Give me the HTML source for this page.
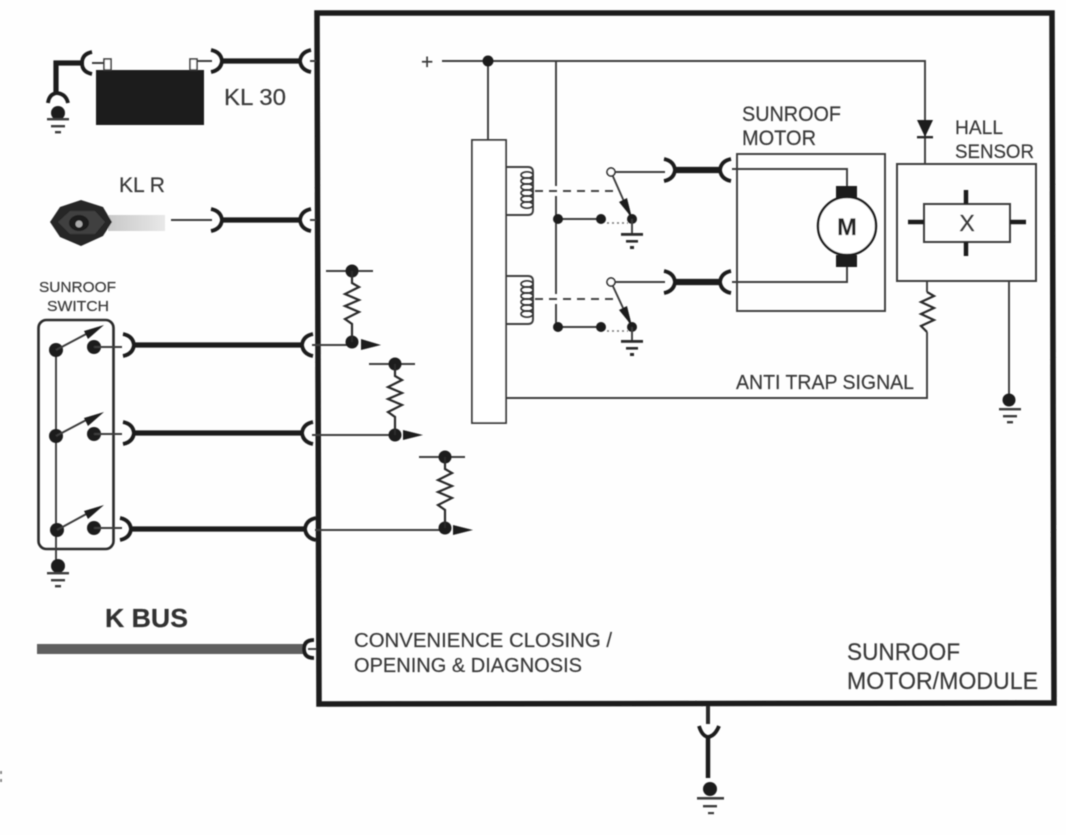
<!DOCTYPE html>
<html>
<head>
<meta charset="utf-8">
<style>
html,body{margin:0;padding:0;background:#fefefe;width:1066px;height:835px;overflow:hidden}
svg{display:block}
text{font-family:"Liberation Sans",sans-serif;fill:#3a3a3a;stroke:#3a3a3a;stroke-width:0.2}
.w{fill:none;stroke:#3c3c3c;stroke-width:1.9}
.t{fill:none;stroke:#1e1e1e;stroke-width:5.2}
.c{fill:none;stroke:#1e1e1e;stroke-width:3.8}
.d{fill:#1e1e1e}
</style>
</head>
<body>
<svg width="1066" height="835" viewBox="0 0 1066 835" xmlns="http://www.w3.org/2000/svg">
<defs>
<filter id="b" x="-5%" y="-5%" width="110%" height="110%"><feGaussianBlur stdDeviation="0.65"/></filter>
<linearGradient id="blade" x1="0" x2="1" y1="0" y2="0"><stop offset="0" stop-color="#c8c8c8"/><stop offset="1" stop-color="#e8e8e8"/></linearGradient>
<path id="plug" d="M-11,-11 Q-1,-9 0,0 Q-1,9 -11,11" fill="none" stroke="#1e1e1e" stroke-width="3.8"/>
<path id="sock" d="M11,-11 Q1,-9 0,0 Q1,9 11,11" fill="none" stroke="#1e1e1e" stroke-width="3.8"/>
<g id="gnd"><rect x="-11" y="0" width="22" height="2.4" fill="#3c3c3c"/><rect x="-7" y="7" width="14" height="2.4" fill="#3c3c3c"/><rect x="-3" y="13" width="6" height="2.4" fill="#3c3c3c"/></g>
</defs>
<g filter="url(#b)">
<!-- module -->
<path d="M317,13 L1052,13 L1054,703 L319,704 Z" fill="none" stroke="#1e1e1e" stroke-width="5.5"/>

<!-- KL30 -->
<rect x="96" y="70" width="108" height="55" fill="#1a1a1a"/>
<rect x="104" y="59" width="7" height="11" fill="#fff" stroke="#3c3c3c" stroke-width="1.6"/>
<rect x="190" y="59" width="7" height="11" fill="#fff" stroke="#3c3c3c" stroke-width="1.6"/>
<path class="w" d="M92,63H104M197,61H212"/>
<path class="t" d="M84,63H56V93"/>
<path class="c" d="M92,52 Q82,54 82,63 Q82,72 92,74"/>
<path class="c" d="M48,103 Q49,94 57,93 Q66,94 68,103"/>
<circle class="d" cx="58" cy="113" r="7"/>
<use href="#gnd" x="58" y="118"/>
<use href="#plug" x="222" y="61"/>
<path class="t" d="M222,61H300"/>
<use href="#sock" x="300" y="61"/>
<path class="w" d="M310,61H316"/>
<text x="224" y="105" font-size="23" textLength="62" lengthAdjust="spacingAndGlyphs">KL 30</text>

<!-- KL R -->
<text x="119" y="192" font-size="21" textLength="46" lengthAdjust="spacingAndGlyphs">KL R</text>
<rect x="108" y="215" width="57" height="16" fill="url(#blade)"/>
<path d="M50,222 L60,207 L81,200 L103,207 L112,222 L103,236 L81,246 L60,237 Z" fill="#262626"/>
<path d="M58,222 L70,211 L95,211 L105,222 L95,234 L70,234 Z" fill="#404040"/>
<ellipse cx="79" cy="223" rx="10" ry="8" fill="#1e1e1e"/>
<ellipse cx="79" cy="224" rx="3.5" ry="3.5" fill="#aaa"/>
<path class="w" d="M171,220H212"/>
<use href="#plug" x="222" y="220"/>
<path class="t" d="M222,220H300"/>
<use href="#sock" x="300" y="220"/>
<path class="w" d="M310,220H316"/>

<!-- Switch -->
<text x="39" y="292" font-size="15" textLength="77" lengthAdjust="spacingAndGlyphs">SUNROOF</text>
<text x="47" y="311" font-size="15" textLength="62" lengthAdjust="spacingAndGlyphs">SWITCH</text>
<rect x="38.5" y="320" width="75" height="229" rx="8" fill="none" stroke="#2a2a2a" stroke-width="2.6"/>
<path class="w" d="M56,350V566"/>
<circle class="d" cx="56" cy="350" r="7"/>
<circle class="d" cx="56" cy="436" r="7"/>
<circle class="d" cx="57" cy="530" r="7"/>
<circle class="d" cx="94" cy="347" r="7"/>
<circle class="d" cx="94" cy="434" r="7"/>
<circle class="d" cx="94" cy="528" r="7"/>
<path class="w" d="M56,350L90,332M56,436L90,418M57,530L90,512"/>
<path class="d" d="M104,325L84,331L88,339ZM104,412L84,418L88,426ZM104,505L84,511L88,519Z"/>
<path class="w" d="M94,347H122M94,434H122M94,528H122"/>
<use href="#plug" x="134" y="345"/><use href="#plug" x="134" y="433"/><use href="#plug" x="131" y="529"/>
<path class="t" d="M134,345H302M134,433H302M131,529H305"/>
<use href="#sock" x="302" y="345"/><use href="#sock" x="302" y="433"/><use href="#sock" x="305" y="529"/>
<circle class="d" cx="58" cy="566" r="7"/>
<use href="#gnd" x="58" y="572"/>

<!-- pull-ups -->
<path class="w" d="M312,345H352M312,435H395M315,530H445"/>
<path class="w" d="M326,271H373M369,364H415M419,457H465"/>
<circle class="d" cx="352" cy="271" r="6.5"/>
<circle class="d" cx="352" cy="342" r="6.5"/>
<circle class="d" cx="395" cy="364" r="6.5"/>
<circle class="d" cx="395" cy="435" r="6.5"/>
<circle class="d" cx="445" cy="457" r="6.5"/>
<circle class="d" cx="445" cy="528" r="6.5"/>
<path d="M352,271V283L359,287L345,294L359,300L345,306L359,312L345,319L352,324V342" fill="none" stroke="#2a2a2a" stroke-width="2.2"/>
<path d="M395,364V376L402,380L388,387L402,393L388,399L402,405L388,412L395,417V435" fill="none" stroke="#2a2a2a" stroke-width="2.2"/>
<path d="M445,457V469L452,473L438,480L452,486L438,492L452,498L438,505L445,510V528" fill="none" stroke="#2a2a2a" stroke-width="2.2"/>
<path class="d" d="M361,339L381,345L361,350ZM403,430L423,435L403,440ZM453,525L473,530L453,535Z"/>

<!-- K BUS -->
<text x="105" y="627" font-size="26" font-weight="bold" textLength="83" lengthAdjust="spacingAndGlyphs" style="fill:#333">K BUS</text>
<rect x="37" y="644" width="268" height="10" fill="#5e5e5e"/>
<path d="M314,640 Q304,640 304,649 Q304,658 314,658" fill="none" stroke="#1e1e1e" stroke-width="3.8"/>
<path class="w" d="M308,649H316"/>

<!-- Bottom ground -->
<path d="M708,706V724" stroke="#2a2a2a" stroke-width="4" fill="none"/>
<path class="c" d="M699,726 Q702,736 708,737 Q715,736 719,726"/>
<path d="M708,737V778" stroke="#1e1e1e" stroke-width="4.5" fill="none"/>
<circle class="d" cx="710" cy="789" r="7"/>
<rect x="697" y="797" width="27" height="2.6" fill="#3c3c3c"/>
<rect x="703" y="805" width="14" height="2.4" fill="#3c3c3c"/>
<rect x="708" y="812" width="6" height="2.2" fill="#3c3c3c"/>

<!-- Supply -->
<text x="421" y="69" font-size="21">+</text>
<path class="w" d="M442,61H925V164M488,61V140M556,61V186M556,196V294M556,304V327"/>
<circle class="d" cx="488" cy="61" r="5.5"/>

<!-- Relay block -->
<rect x="472" y="140" width="34" height="283" fill="#fff" stroke="#3c3c3c" stroke-width="1.9"/>
<path class="w" d="M506,167H528Q533,167 533,172V210Q533,215 528,215H506"/>
<path class="w" d="M506,276H528Q533,276 533,281V319Q533,324 528,324H506"/>
<g fill="none" stroke="#333" stroke-width="1.6">
<ellipse cx="527" cy="175" rx="6" ry="3.2"/><ellipse cx="527" cy="181" rx="6" ry="3.2"/><ellipse cx="527" cy="187" rx="6" ry="3.2"/><ellipse cx="527" cy="193" rx="6" ry="3.2"/><ellipse cx="527" cy="199" rx="6" ry="3.2"/><ellipse cx="527" cy="205" rx="6" ry="3.2"/>
<ellipse cx="527" cy="284" rx="6" ry="3.2"/><ellipse cx="527" cy="290" rx="6" ry="3.2"/><ellipse cx="527" cy="296" rx="6" ry="3.2"/><ellipse cx="527" cy="302" rx="6" ry="3.2"/><ellipse cx="527" cy="308" rx="6" ry="3.2"/><ellipse cx="527" cy="314" rx="6" ry="3.2"/>
</g>
<path d="M535,191H616M535,299H616" stroke="#444" stroke-width="2" stroke-dasharray="8 6" fill="none"/>
<path class="w" d="M558,219H601M558,327H601"/>
<circle class="d" cx="558" cy="219" r="5"/><circle class="d" cx="601" cy="219" r="5"/><circle class="d" cx="632" cy="219" r="5"/>
<circle class="d" cx="558" cy="327" r="5"/><circle class="d" cx="601" cy="327" r="5"/><circle class="d" cx="632" cy="327" r="5"/>
<path d="M607,223H628M607,331H628" stroke="#777" stroke-width="1.6" stroke-dasharray="2 3" fill="none"/>
<path class="w" d="M611,172L630,215M611,282L630,323"/>
<path class="d" d="M632,218L619,202L627,198ZM632,326L619,310L627,306Z"/>
<circle cx="611" cy="172" r="4" fill="#fff" stroke="#2a2a2a" stroke-width="1.7"/>
<circle cx="611" cy="282" r="4" fill="#fff" stroke="#2a2a2a" stroke-width="1.7"/>
<path class="w" d="M632,219V234M632,327V342M615,172H665M615,282H665"/>
<rect x="621" y="233" width="22" height="2.8" fill="#2a2a2a"/><rect x="626" y="240" width="12" height="2.6" fill="#2a2a2a"/><rect x="630" y="246" width="4" height="3" fill="#2a2a2a"/>
<rect x="621" y="340" width="22" height="2.8" fill="#2a2a2a"/><rect x="626" y="347" width="12" height="2.6" fill="#2a2a2a"/><rect x="630" y="353" width="4" height="3" fill="#2a2a2a"/>

<!-- motor connectors -->
<use href="#plug" x="675" y="170"/><use href="#sock" x="720" y="170"/>
<use href="#plug" x="675" y="282"/><use href="#sock" x="720" y="282"/>
<path d="M675,170H722M675,282H722" stroke="#1e1e1e" stroke-width="6.2" fill="none"/>

<!-- Motor -->
<text x="742" y="121" font-size="21" textLength="99" lengthAdjust="spacingAndGlyphs">SUNROOF</text>
<text x="742" y="145" font-size="21" textLength="74" lengthAdjust="spacingAndGlyphs">MOTOR</text>
<rect x="737" y="154" width="148" height="157" fill="none" stroke="#3c3c3c" stroke-width="1.9"/>
<path class="w" d="M732,169H847V186M732,282H847V266"/>
<rect x="836" y="186" width="21" height="13" fill="#1e1e1e"/>
<rect x="836" y="255" width="21" height="12" fill="#1e1e1e"/>
<circle cx="847" cy="226" r="29" fill="#fff" stroke="#1e1e1e" stroke-width="2.4"/>
<text x="847" y="235" font-size="24" font-weight="bold" text-anchor="middle" style="fill:#222">M</text>

<!-- Hall -->
<path class="d" d="M917,120H933L925,137Z"/>
<rect x="917" y="136" width="16" height="2.4" fill="#2a2a2a"/>
<text x="955" y="134" font-size="19" textLength="48" lengthAdjust="spacingAndGlyphs">HALL</text>
<text x="955" y="158" font-size="19" textLength="79" lengthAdjust="spacingAndGlyphs">SENSOR</text>
<rect x="897" y="164" width="139" height="117" fill="none" stroke="#3c3c3c" stroke-width="2"/>
<rect x="924" y="204" width="86" height="38" fill="none" stroke="#3c3c3c" stroke-width="2"/>
<path d="M966,190V204M966,242V256M908,222H924M1010,222H1026" stroke="#1e1e1e" stroke-width="4.5" fill="none"/>
<text x="967" y="231" font-size="23" text-anchor="middle">X</text>
<path class="w" d="M927,281V292M927,332V398H506"/>
<path d="M927,292L934,296L921,302L934,308L921,314L934,320L921,326L927,332" fill="none" stroke="#2a2a2a" stroke-width="2.2"/>
<path class="w" d="M1009,281V395"/>
<circle class="d" cx="1009" cy="400" r="6.5"/>
<use href="#gnd" x="1010" y="408"/>
<text x="736" y="389" font-size="20" textLength="178" lengthAdjust="spacingAndGlyphs">ANTI TRAP SIGNAL</text>

<!-- Labels -->
<text x="354" y="647" font-size="20.5" textLength="258" lengthAdjust="spacingAndGlyphs">CONVENIENCE CLOSING /</text>
<text x="354" y="672" font-size="20.5" textLength="228" lengthAdjust="spacingAndGlyphs">OPENING &amp; DIAGNOSIS</text>
<text x="847" y="660" font-size="24" textLength="113" lengthAdjust="spacingAndGlyphs">SUNROOF</text>
<text x="847" y="689" font-size="24" textLength="191" lengthAdjust="spacingAndGlyphs">MOTOR/MODULE</text>
<rect x="0" y="771" width="2" height="3" fill="#888"/><rect x="0" y="779" width="2" height="3" fill="#888"/>
</g>
</svg>
</body>
</html>
